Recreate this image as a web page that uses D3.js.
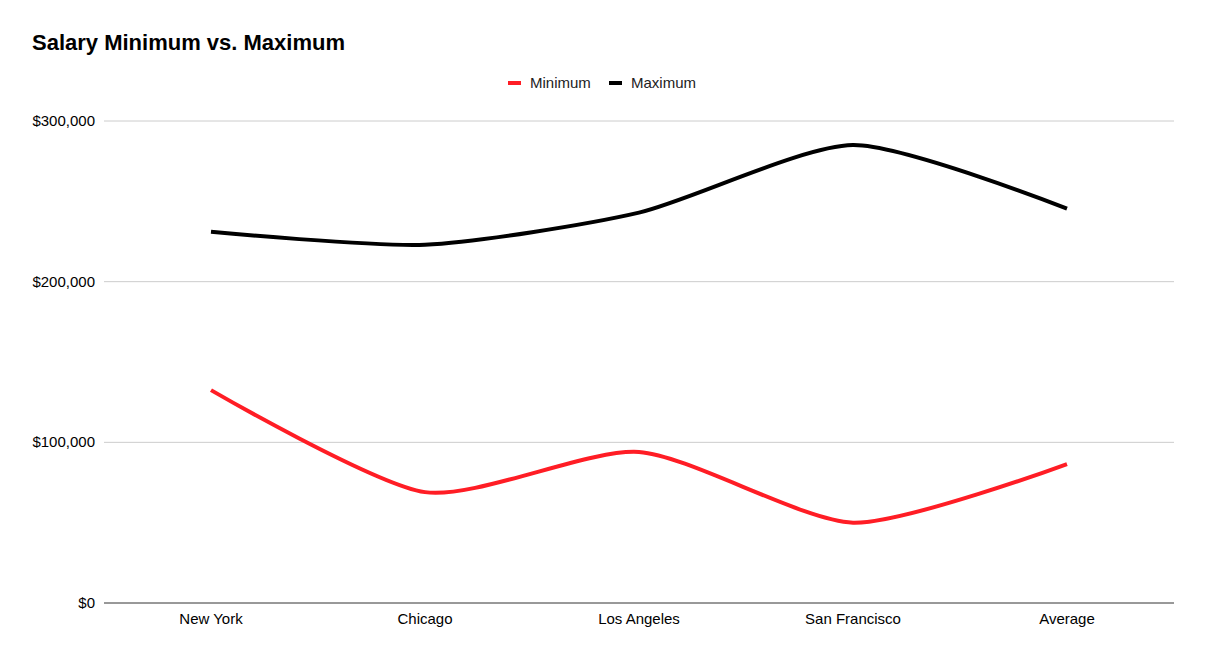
<!DOCTYPE html>
<html>
<head>
<meta charset="utf-8">
<script src="https://cdn.jsdelivr.net/npm/d3@7"></script>
<style>
  body { margin: 0; background: #fff; font-family: "Liberation Sans", Arial, sans-serif; }
</style>
</head>
<body>
<script>
var cities = ["New York", "Chicago", "Los Angeles", "San Francisco", "Average"];
var minimum = [132500, 69000, 94000, 50000, 86500];
var maximum = [231000, 223000, 243000, 285000, 245500];
var yTicks = [0, 100000, 200000, 300000];

var W = 1206, H = 657;
var m = { top: 121, right: 32, bottom: 54, left: 104 };

var svg = d3.select("body").append("svg")
  .attr("width", W)
  .attr("height", H);

var x = d3.scaleBand().domain(cities).range([m.left, W - m.right]);
var y = d3.scaleLinear().domain([0, 300000]).range([H - m.bottom, m.top]);

// gridlines
svg.append("g")
  .selectAll("line")
  .data(yTicks.slice(1))
  .enter().append("line")
    .attr("x1", m.left).attr("x2", W - m.right)
    .attr("y1", function(d) { return y(d); })
    .attr("y2", function(d) { return y(d); })
    .attr("stroke", "#cccccc").attr("stroke-width", 1);

// y labels
var fmt = d3.format("$,");
svg.append("g")
  .selectAll("text")
  .data(yTicks)
  .enter().append("text")
    .attr("x", 95)
    .attr("y", function(d) { return y(d) + 5; })
    .attr("text-anchor", "end")
    .attr("font-size", 15)
    .attr("fill", "#000")
    .text(function(d) { return fmt(d); });

// baseline
svg.append("line")
  .attr("x1", m.left).attr("x2", W - m.right)
  .attr("y1", y(0)).attr("y2", y(0))
  .attr("stroke", "#333").attr("stroke-width", 1);

// x labels
svg.append("g")
  .selectAll("text")
  .data(cities)
  .enter().append("text")
    .attr("x", function(d) { return x(d) + x.bandwidth() / 2; })
    .attr("y", y(0) + 21)
    .attr("text-anchor", "middle")
    .attr("font-size", 15)
    .attr("fill", "#000")
    .text(function(d) { return d; });

var line = d3.line()
  .x(function(d, i) { return x(cities[i]) + x.bandwidth() / 2; })
  .y(function(d) { return y(d); })
  .curve(d3.curveCardinal.tension(0.3));

var series = [
  { name: "Minimum", values: minimum, color: "#ff1d25" },
  { name: "Maximum", values: maximum, color: "#000000" }
];

svg.append("g")
  .selectAll("path")
  .data(series)
  .enter().append("path")
    .attr("d", function(d) { return line(d.values); })
    .attr("fill", "none")
    .attr("stroke", function(d) { return d.color; })
    .attr("stroke-width", 4);

// title
svg.append("text")
  .attr("x", 32).attr("y", 50)
  .attr("font-size", 22)
  .attr("font-weight", "bold")
  .attr("fill", "#000")
  .text("Salary Minimum vs. Maximum");

// legend
var legend = svg.append("g");
var lx = [508, 609];
series.forEach(function(s, i) {
  legend.append("line")
    .attr("x1", lx[i]).attr("x2", lx[i] + 13)
    .attr("y1", 83).attr("y2", 83)
    .attr("stroke", s.color).attr("stroke-width", 4);
  legend.append("text")
    .attr("x", lx[i] + 22).attr("y", 88)
    .attr("font-size", 15)
    .attr("fill", "#222")
    .text(s.name);
});
</script>
</body>
</html>
